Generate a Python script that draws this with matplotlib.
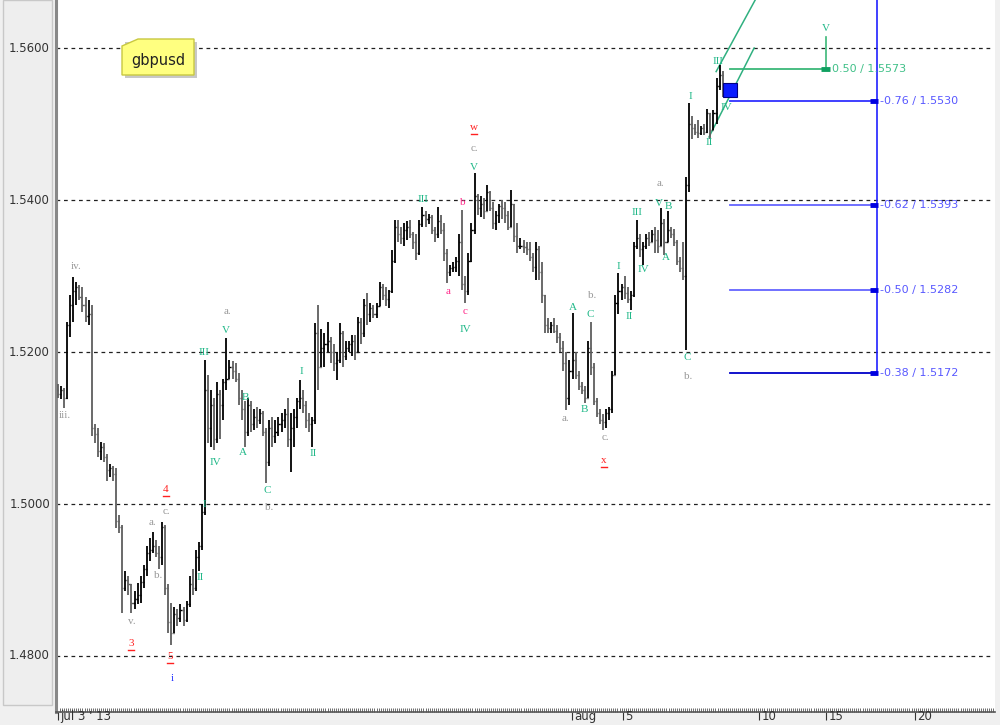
import numpy as np
import matplotlib.pyplot as plt
import matplotlib.transforms as mtrans
from matplotlib.patches import Rectangle, Polygon

# gbpusd 3h bars from jul 3 2013, x axis = trading days (8 bars a day)
first_open = 1.5150
bar_high = [
    1.5158, 1.5155, 1.5152, 1.5240, 1.5275, 1.5299, 1.5292, 1.5288, 1.5285, 1.5272,
    1.5268, 1.5262, 1.5105, 1.5100, 1.5082, 1.5080, 1.5066, 1.5052, 1.5050, 1.5047,
    1.4985, 1.4972, 1.4912, 1.4905, 1.4895, 1.4885, 1.4896, 1.4905, 1.4920, 1.4945,
    1.4955, 1.4963, 1.4952, 1.4945, 1.4976, 1.4972, 1.4895, 1.4870, 1.4865, 1.4862,
    1.4868, 1.4865, 1.4872, 1.4905, 1.4915, 1.4940, 1.4950, 1.5000, 1.5190, 1.5170,
    1.5150, 1.5140, 1.5160, 1.5150, 1.5165, 1.5218, 1.5190, 1.5188, 1.5185, 1.5172,
    1.5150, 1.5135, 1.5140, 1.5135, 1.5125, 1.5128, 1.5125, 1.5122, 1.5100, 1.5110,
    1.5115, 1.5110, 1.5115, 1.5120, 1.5125, 1.5140, 1.5120, 1.5125, 1.5140, 1.5163,
    1.5150, 1.5135, 1.5120, 1.5115, 1.5238, 1.5262, 1.5230, 1.5225, 1.5240, 1.5220,
    1.5210, 1.5200, 1.5238, 1.5228, 1.5215, 1.5215, 1.5222, 1.5222, 1.5246, 1.5245,
    1.5270, 1.5278, 1.5265, 1.5262, 1.5265, 1.5292, 1.5290, 1.5285, 1.5282, 1.5334,
    1.5374, 1.5374, 1.5365, 1.5370, 1.5372, 1.5374, 1.5358, 1.5355, 1.5374, 1.5391,
    1.5385, 1.5382, 1.5380, 1.5365, 1.5391, 1.5380, 1.5370, 1.5335, 1.5315, 1.5318,
    1.5325, 1.5355, 1.5387, 1.5300, 1.5330, 1.5370, 1.5436, 1.5408, 1.5405, 1.5402,
    1.5420, 1.5412, 1.5398, 1.5385, 1.5395, 1.5400, 1.5398, 1.5385, 1.5413, 1.5395,
    1.5370, 1.5350, 1.5348, 1.5345, 1.5345, 1.5330, 1.5345, 1.5340, 1.5318, 1.5255,
    1.5245, 1.5240, 1.5245, 1.5235, 1.5225, 1.5215, 1.5200, 1.5190, 1.5251, 1.5200,
    1.5175, 1.5160, 1.5155, 1.5215, 1.5240, 1.5185, 1.5140, 1.5125, 1.5118, 1.5125,
    1.5128, 1.5175, 1.5275, 1.5304, 1.5290, 1.5300, 1.5285, 1.5280, 1.5345, 1.5374,
    1.5355, 1.5345, 1.5355, 1.5358, 1.5360, 1.5365, 1.5360, 1.5390, 1.5375, 1.5385,
    1.5365, 1.5362, 1.5348, 1.5325, 1.5345, 1.5430, 1.5528, 1.5510, 1.5500, 1.5505,
    1.5498, 1.5500, 1.5520, 1.5515, 1.5518, 1.5560, 1.5578, 1.5570, 1.5550, 1.5552, 1.5552]
bar_low = [
    1.5140, 1.5138, 1.5126, 1.5138, 1.5220, 1.5240, 1.5262, 1.5268, 1.5252, 1.5240,
    1.5235, 1.5090, 1.5080, 1.5062, 1.5058, 1.5055, 1.5030, 1.5035, 1.5030, 1.4968,
    1.4962, 1.4857, 1.4885, 1.4880, 1.4857, 1.4862, 1.4868, 1.4870, 1.4890, 1.4905,
    1.4925, 1.4935, 1.4930, 1.4915, 1.4920, 1.4880, 1.4830, 1.4815, 1.4838, 1.4840,
    1.4845, 1.4840, 1.4845, 1.4865, 1.4880, 1.4885, 1.4912, 1.4940, 1.4985, 1.5080,
    1.5075, 1.5071, 1.5080, 1.5085, 1.5110, 1.5150, 1.5168, 1.5165, 1.5160, 1.5130,
    1.5110, 1.5075, 1.5090, 1.5095, 1.5098, 1.5100, 1.5105, 1.5090, 1.5028, 1.5050,
    1.5075, 1.5080, 1.5090, 1.5095, 1.5100, 1.5075, 1.5042, 1.5075, 1.5100, 1.5125,
    1.5120, 1.5100, 1.5095, 1.5075, 1.5105, 1.5150, 1.5195, 1.5180, 1.5200, 1.5185,
    1.5175, 1.5163, 1.5185, 1.5180, 1.5190, 1.5200, 1.5195, 1.5190, 1.5210, 1.5210,
    1.5220, 1.5235, 1.5240, 1.5245, 1.5245, 1.5262, 1.5268, 1.5260, 1.5258, 1.5278,
    1.5317, 1.5345, 1.5342, 1.5340, 1.5348, 1.5350, 1.5335, 1.5321, 1.5328, 1.5365,
    1.5365, 1.5368, 1.5355, 1.5345, 1.5350, 1.5355, 1.5320, 1.5291, 1.5300, 1.5305,
    1.5305, 1.5300, 1.5282, 1.5265, 1.5275, 1.5318, 1.5355, 1.5380, 1.5378, 1.5375,
    1.5388, 1.5385, 1.5362, 1.5360, 1.5370, 1.5375, 1.5370, 1.5360, 1.5365, 1.5345,
    1.5330, 1.5335, 1.5330, 1.5328, 1.5320, 1.5305, 1.5295, 1.5295, 1.5265, 1.5225,
    1.5225, 1.5225, 1.5225, 1.5212, 1.5200, 1.5175, 1.5124, 1.5130, 1.5165, 1.5165,
    1.5150, 1.5145, 1.5133, 1.5140, 1.5170, 1.5130, 1.5115, 1.5105, 1.5097, 1.5100,
    1.5110, 1.5120, 1.5170, 1.5250, 1.5268, 1.5270, 1.5265, 1.5255, 1.5272, 1.5335,
    1.5325, 1.5314, 1.5335, 1.5340, 1.5345, 1.5330, 1.5330, 1.5340, 1.5328, 1.5345,
    1.5350, 1.5340, 1.5315, 1.5305, 1.5295, 1.5203, 1.5410, 1.5480, 1.5485, 1.5482,
    1.5485, 1.5485, 1.5488, 1.5480, 1.5495, 1.5500, 1.5545, 1.5535, 1.5538, 1.5540, 1.5538]
bar_close = [
    1.5145, 1.5150, 1.5140, 1.5235, 1.5262, 1.5280, 1.5285, 1.5272, 1.5262, 1.5248,
    1.5250, 1.5100, 1.5092, 1.5070, 1.5075, 1.5062, 1.5045, 1.5048, 1.5040, 1.4978,
    1.4970, 1.4890, 1.4900, 1.4895, 1.4870, 1.4875, 1.4880, 1.4898, 1.4915, 1.4935,
    1.4940, 1.4945, 1.4935, 1.4930, 1.4970, 1.4890, 1.4845, 1.4830, 1.4855, 1.4850,
    1.4860, 1.4848, 1.4868, 1.4895, 1.4890, 1.4930, 1.4945, 1.4990, 1.5150, 1.5100,
    1.5130, 1.5085, 1.5145, 1.5130, 1.5160, 1.5165, 1.5180, 1.5175, 1.5165, 1.5140,
    1.5125, 1.5095, 1.5130, 1.5105, 1.5115, 1.5110, 1.5120, 1.5095, 1.5055, 1.5100,
    1.5090, 1.5095, 1.5105, 1.5110, 1.5118, 1.5085, 1.5100, 1.5115, 1.5135, 1.5140,
    1.5130, 1.5110, 1.5105, 1.5110, 1.5225, 1.5180, 1.5205, 1.5210, 1.5215, 1.5200,
    1.5185, 1.5190, 1.5225, 1.5195, 1.5205, 1.5210, 1.5215, 1.5200, 1.5240, 1.5225,
    1.5262, 1.5250, 1.5258, 1.5250, 1.5260, 1.5285, 1.5275, 1.5270, 1.5280, 1.5320,
    1.5365, 1.5355, 1.5350, 1.5360, 1.5365, 1.5355, 1.5345, 1.5330, 1.5368, 1.5380,
    1.5375, 1.5378, 1.5360, 1.5355, 1.5372, 1.5360, 1.5330, 1.5305, 1.5310, 1.5312,
    1.5320, 1.5345, 1.5290, 1.5280, 1.5320, 1.5360, 1.5405, 1.5390, 1.5395, 1.5385,
    1.5410, 1.5390, 1.5370, 1.5380, 1.5392, 1.5390, 1.5380, 1.5365, 1.5395, 1.5352,
    1.5340, 1.5340, 1.5338, 1.5335, 1.5325, 1.5312, 1.5335, 1.5305, 1.5275, 1.5235,
    1.5232, 1.5235, 1.5228, 1.5220, 1.5205, 1.5185, 1.5140, 1.5175, 1.5190, 1.5170,
    1.5155, 1.5150, 1.5140, 1.5205, 1.5180, 1.5135, 1.5120, 1.5110, 1.5108, 1.5120,
    1.5125, 1.5170, 1.5265, 1.5280, 1.5285, 1.5278, 1.5270, 1.5275, 1.5340, 1.5350,
    1.5335, 1.5340, 1.5350, 1.5345, 1.5355, 1.5348, 1.5340, 1.5370, 1.5345, 1.5360,
    1.5355, 1.5345, 1.5320, 1.5310, 1.5300, 1.5420, 1.5500, 1.5495, 1.5490, 1.5488,
    1.5495, 1.5490, 1.5515, 1.5492, 1.5515, 1.5550, 1.5565, 1.5545, 1.5545, 1.5542, 1.5548]
bars_per_day = 8

grid_prices = [1.48, 1.50, 1.52, 1.54, 1.56]
date_ticks = [0.0, 20.98, 23.06, 28.6, 31.35, 34.98]
date_labels = ["jul 3 ' 13", "aug", "5", "10", "15", "20"]

# elliott wave counts: (day, price, text, colour, underlined)
GRAY, RED, GREEN, PINK, BLUE = "#999999", "#ff2020", "#20b888", "#ff2a8a", "#2030ff"
wave_labels = [
    (0.29, 1.5116, "iii.", GRAY, False), (0.73, 1.5312, "iv.", GRAY, False),
    (3.02, 1.4846, "v.", GRAY, False), (2.98, 1.4817, "3", RED, True),
    (3.84, 1.4976, "a.", GRAY, False), (4.08, 1.4906, "b.", GRAY, False),
    (4.41, 1.4990, "c.", GRAY, False), (4.41, 1.5019, "4", RED, True),
    (4.57, 1.4799, "5", RED, True), (4.65, 1.4770, "i", BLUE, False),
    (5.96, 1.4999, "I", GREEN, False), (5.80, 1.4903, "II", GREEN, False),
    (5.96, 1.5200, "III", GREEN, False), (6.41, 1.5054, "IV", GREEN, False),
    (6.86, 1.5228, "V", GREEN, False), (6.90, 1.5253, "a.", GRAY, False),
    (7.63, 1.5140, "B", GREEN, False), (7.55, 1.5068, "A", GREEN, False),
    (8.53, 1.5018, "C", GREEN, False), (8.61, 1.4995, "b.", GRAY, False),
    (9.92, 1.5174, "I", GREEN, False), (10.41, 1.5067, "II", GREEN, False),
    (14.90, 1.5401, "III", GREEN, False), (15.92, 1.5279, "a", PINK, False),
    (16.53, 1.5397, "b", PINK, False), (16.61, 1.5253, "c", PINK, False),
    (16.61, 1.5229, "IV", GREEN, False), (16.98, 1.5443, "V", GREEN, False),
    (16.98, 1.5468, "c.", GRAY, False), (16.98, 1.5496, "w", RED, True),
    (21.02, 1.5259, "A", GREEN, False), (20.73, 1.5112, "a.", GRAY, False),
    (21.47, 1.5125, "B", GREEN, False), (21.71, 1.5250, "C", GREEN, False),
    (21.80, 1.5275, "b.", GRAY, False), (22.33, 1.5087, "c.", GRAY, False),
    (22.29, 1.5057, "x", RED, True), (22.86, 1.5313, "I", GREEN, False),
    (23.31, 1.5247, "II", GREEN, False), (23.63, 1.5383, "III", GREEN, False),
    (23.88, 1.5308, "IV", GREEN, False), (24.53, 1.5396, "V", GREEN, False),
    (24.90, 1.5391, "B", GREEN, False), (24.82, 1.5324, "A", GREEN, False),
    (24.57, 1.5422, "a.", GRAY, False), (25.67, 1.5193, "C", GREEN, False),
    (25.71, 1.5168, "b.", GRAY, False), (25.80, 1.5536, "I", GREEN, False),
    (26.57, 1.5476, "II", GREEN, False), (26.94, 1.5582, "III", GREEN, False),
    (27.27, 1.5522, "IV", GREEN, False), (31.35, 1.5626, "V", GREEN, False),
]

# fibonacci projection
fib_ratio = [-0.76, -0.62, -0.50, -0.38]
fib_price = [1.5530, 1.5393, 1.5282, 1.5172]
fib_color = ["#3030ff", "#6464ff", "#6464ff", "#0000c8"]
fib_start, fib_end = 27.43, 33.43
tgt_ratio, tgt_price, tgt_end = 0.50, 1.5573, 31.35
channel_a = ([26.86, 28.45], [1.5569, 1.5663])
channel_b = ([26.57, 28.41], [1.5483, 1.5600])

fig = plt.figure(figsize=(10, 7.25), dpi=100)
fig.patch.set_facecolor("#f0f0f0")

# price scale panel (behind everything)
fig.patches.append(Rectangle((3 / 1000, 20 / 725), 49 / 1000, 705 / 725, transform=fig.transFigure,
                             facecolor="#eeeeee", edgecolor="#c8c8c8", lw=1, zorder=-5))

ax = fig.add_axes([0.056, 13 / 725, 0.939, 712 / 725])
ax.set_facecolor("white")
ax.set_xlim(-0.08, 38.24)
ax.set_ylim(1.47263, 1.56632)

for g in grid_prices:
    ax.axhline(g, xmax=0.995, color="#202020", lw=0.9, ls=(0, (3, 3)), zorder=1)

# ohlc bars
bar_day = np.arange(len(bar_close)) / bars_per_day
bar_open = [first_open] + bar_close[:-1]
w = 0.045
for d, o, h, l, c in zip(bar_day, bar_open, bar_high, bar_low, bar_close):
    col = "black" if c >= o else "#5e5e5e"
    h, l = max(h, o, c), min(l, o, c)
    ax.plot([d, d], [l, h], color=col, lw=1.3, zorder=3, solid_capstyle="butt")
    ax.plot([d - w, d], [o, o], color=col, lw=1.0, zorder=3, solid_capstyle="butt")
    ax.plot([d, d + w], [c, c], color=col, lw=1.0, zorder=3, solid_capstyle="butt")

for d, p, t, col, ul in wave_labels:
    ax.text(d, p, t, color=col, fontsize=8, family="Liberation Serif",
            ha="center", va="center", zorder=4)
    if ul:
        ax.plot([d - 0.12, d + 0.12], [p - 0.00085, p - 0.00085], color=col, lw=1.0, zorder=4)

# fib tool
ax.plot([fib_end, fib_end], [fib_price[-1], 1.5663], color="#2020ff", lw=1.2, zorder=2)
for r, p, col in zip(fib_ratio, fib_price, fib_color):
    ax.plot([fib_start, fib_end], [p, p], color=col, lw=1.3, zorder=2)
    ax.plot([fib_end - 0.3, fib_end + 0.04], [p, p], color="#0000e0", lw=3.5, zorder=2,
            solid_capstyle="butt")
    ax.text(fib_end + 0.12, p, "%.2f / %.4f" % (r, p), color="#5858ff", fontsize=8,
            va="center", ha="left")
ax.plot([fib_start, tgt_end], [tgt_price, tgt_price], color="#3cb878", lw=1.3, zorder=2)
ax.plot([tgt_end, tgt_end], [tgt_price, 1.5615], color="#3cb878", lw=1.2, zorder=2)
ax.plot([tgt_end - 0.2, tgt_end + 0.15], [tgt_price, tgt_price], color="#10a060", lw=3.5,
        solid_capstyle="butt")
ax.text(tgt_end + 0.25, tgt_price, "%.2f / %.4f" % (tgt_ratio, tgt_price), color="#40c088",
        fontsize=8, va="center", ha="left")
ax.plot(*channel_a, color="#30b080", lw=1.1, zorder=2)
ax.plot(*channel_b, color="#30b080", lw=1.1, zorder=2)
ax.add_patch(Rectangle((27.14, 1.5536), 0.57, 0.0018, facecolor="#0a1cff",
                       edgecolor="#000080", lw=0.8, zorder=5))

# axes styling
for s in ["top", "right"]:
    ax.spines[s].set_visible(False)
ax.spines["left"].set_color("#888888")
ax.spines["left"].set_linewidth(2.2)
ax.spines["bottom"].set_color("#555555")
ax.spines["bottom"].set_linewidth(1.2)
ax.set_yticks([])
ax.set_xticks(date_ticks)
ax.set_xticklabels([])
ax.tick_params(axis="x", which="major", direction="out", length=6, color="#333333")
ax.set_xticks(np.arange(0, 38.2, 1 / 12), minor=True)
ax.tick_params(axis="x", which="minor", direction="in", length=3, width=0.6, color="#555555")
trans = mtrans.blended_transform_factory(ax.transData, fig.transFigure)
for d, t in zip(date_ticks, date_labels):
    ax.text(d + 0.1, 2 / 725, t, transform=trans, fontsize=8.5, color="#333333",
            ha="left", va="bottom", family="DejaVu Sans")

ytrans = mtrans.blended_transform_factory(fig.transFigure, ax.transData)
for g in grid_prices:
    fig.text(50 / 1000, g, "%.4f" % g, transform=ytrans, fontsize=8.5, color="#333333",
             ha="right", va="center", family="DejaVu Sans", zorder=6)

# note
fig.patches.append(Rectangle((125 / 1000, 1 - 78 / 725), 72 / 1000, 36 / 725,
                             transform=fig.transFigure, facecolor="#c8c8c8", edgecolor="none",
                             zorder=5))
fig.patches.append(Polygon([(122 / 1000, 1 - 75 / 725), (194 / 1000, 1 - 75 / 725),
                            (194 / 1000, 1 - 39 / 725), (138 / 1000, 1 - 39 / 725),
                            (122 / 1000, 1 - 46 / 725)], closed=True, transform=fig.transFigure,
                           facecolor="#ffff80", edgecolor="#c8c840", lw=1, zorder=5))
fig.text(158 / 1000, 1 - 60 / 725, "gbpusd", fontsize=10.5, ha="center", va="center",
         color="#222222", family="DejaVu Sans", zorder=6)

fig.savefig("out.png", dpi=100, facecolor=fig.get_facecolor())
